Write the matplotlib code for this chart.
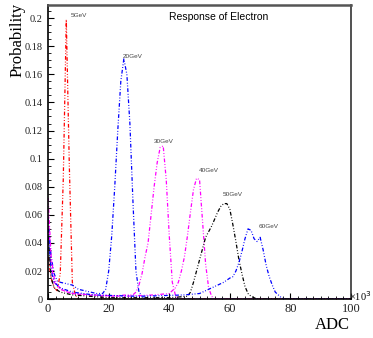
import matplotlib
matplotlib.use("Agg")
import matplotlib.pyplot as plt
from matplotlib.ticker import MultipleLocator, FuncFormatter

# ── 数据（ADC 单位 10^3）──────────────────────────────────────
x_5gev = [0, 1, 2, 3, 4, 5, 6, 7, 8, 9, 10, 100]
y_5gev = [0.030, 0.015, 0.008, 0.006, 0.018, 0.085, 0.199, 0.095, 0.012, 0.003, 0.0, 0.0]

x_20gev = [0, 1, 2, 3, 4, 6, 8, 10, 12, 14, 16, 17, 18, 19, 20, 21, 22, 23, 24, 25,
           26, 27, 28, 29, 30, 31, 32, 100]
y_20gev = [0.058, 0.030, 0.018, 0.013, 0.012, 0.011, 0.010, 0.007, 0.006, 0.005, 0.004, 0.004,
           0.004, 0.007, 0.020, 0.045, 0.080, 0.120, 0.155, 0.171, 0.160, 0.125, 0.070, 0.020,
           0.005, 0.002, 0.0, 0.0]

x_30gev = [0, 1, 2, 3, 5, 8, 12, 20, 26, 28, 29, 30, 31, 32, 33, 34, 35, 36, 37, 38,
           39, 40, 41, 42, 43, 100]
y_30gev = [0.072, 0.030, 0.015, 0.010, 0.006, 0.004, 0.003, 0.002, 0.003, 0.003, 0.005, 0.010,
           0.018, 0.030, 0.040, 0.060, 0.080, 0.097, 0.108, 0.109, 0.085, 0.045, 0.012, 0.003,
           0.0, 0.0]

x_40gev = [0, 1, 2, 4, 8, 15, 25, 35, 40, 41, 42, 43, 44, 45, 46, 47, 48, 49, 50, 51,
           52, 53, 54, 55, 100]
y_40gev = [0.060, 0.025, 0.012, 0.007, 0.004, 0.003, 0.002, 0.003, 0.004, 0.006, 0.008, 0.012,
           0.020, 0.030, 0.045, 0.062, 0.078, 0.086, 0.085, 0.055, 0.025, 0.008, 0.002, 0.0, 0.0]

x_50gev = [0, 1, 2, 4, 8, 20, 40, 46, 47, 48, 49, 50, 51, 52, 53, 54, 55, 56, 57, 58,
           59, 60, 61, 62, 63, 64, 65, 66, 67, 68, 69, 100]
y_50gev = [0.045, 0.015, 0.008, 0.005, 0.003, 0.001, 0.001, 0.002, 0.005, 0.012, 0.020, 0.028,
           0.036, 0.044, 0.048, 0.052, 0.057, 0.062, 0.066, 0.068, 0.068, 0.064, 0.053, 0.041,
           0.028, 0.018, 0.009, 0.004, 0.002, 0.001, 0.0, 0.0]

x_60gev = [0, 1, 2, 4, 8, 15, 30, 45, 50, 52, 54, 56, 58, 60, 61, 62, 63, 64, 65, 66,
           67, 68, 69, 70, 71, 72, 73, 74, 75, 76, 77, 78, 100]
y_60gev = [0.050, 0.020, 0.012, 0.008, 0.005, 0.003, 0.002, 0.003, 0.004, 0.006, 0.008, 0.010,
           0.012, 0.015, 0.016, 0.020, 0.026, 0.034, 0.043, 0.050, 0.049, 0.043, 0.041, 0.044,
           0.035, 0.024, 0.016, 0.010, 0.005, 0.003, 0.001, 0.0, 0.0]

curves = [
    (x_5gev, y_5gev, "#ff0000", "5GeV", (7.3, 0.202)),
    (x_20gev, y_20gev, "#0000ff", "20GeV", (24.5, 0.1726)),
    (x_30gev, y_30gev, "#ff00ff", "30GeV", (34.8, 0.1125)),
    (x_40gev, y_40gev, "#ff00ff", "40GeV", (49.7, 0.0918)),
    (x_50gev, y_50gev, "#000000", "50GeV", (57.6, 0.0747)),
    (x_60gev, y_60gev, "#0000ff", "60GeV", (69.5, 0.0520)),
]

# ── 绘图 ────────────────────────────────────────────────────
fig = plt.figure(figsize=(3.73, 3.38), dpi=100)
ax = fig.add_axes([0.129, 0.115, 0.812, 0.870])

for xs, ys, color, name, (tx, ty) in curves:
    ax.plot(xs, ys, color=color, lw=0.9, dashes=(3, 1.5, 0.7, 1.5, 0.7, 1.5))
    ax.text(tx, ty, name, fontsize=4.6, color="#444444", ha="left", va="center",
            family="Liberation Sans")

ax.set_xlim(0, 100)
ax.set_ylim(0, 0.2093)

ax.xaxis.set_major_locator(MultipleLocator(20))
ax.xaxis.set_minor_locator(MultipleLocator(2.5))
ax.yaxis.set_major_locator(MultipleLocator(0.02))
ax.yaxis.set_minor_locator(MultipleLocator(0.005))
ax.yaxis.set_major_formatter(FuncFormatter(lambda v, p: f"{v:g}"))
ax.xaxis.set_major_formatter(FuncFormatter(lambda v, p: f"{v:g}"))

ax.tick_params(which="both", direction="in", top=False, right=False, color="black")
ax.tick_params(which="major", length=4, width=0.8)
ax.tick_params(which="minor", length=2, width=0.6)
ax.tick_params(axis="x", labelsize=9, pad=3)
ax.tick_params(axis="y", labelsize=7.5, pad=4)
for lab in ax.get_xticklabels() + ax.get_yticklabels():
    lab.set_family("Liberation Serif")
    lab.set_color("#222222")

ax.spines["left"].set_linewidth(1.2)
ax.spines["bottom"].set_linewidth(1.2)
ax.spines["top"].set_linewidth(1.8)
ax.spines["top"].set_color("#555555")
ax.spines["right"].set_linewidth(1.2)
ax.spines["right"].set_color("#333333")

fig.text(18 / 373, 1 - 3 / 338, "Probability", rotation=90, ha="center", va="top",
         fontsize=12, family="Liberation Serif")
fig.text(350 / 373, 1 - 325 / 338, "ADC", ha="right", va="center",
         fontsize=12, family="Liberation Serif")
fig.text(349 / 373, 1 - 296 / 338, "×10$^3$", ha="left", va="center",
         fontsize=7.5, family="Liberation Serif")
ax.text(0.40, 0.96, "Response of Electron", transform=ax.transAxes, ha="left",
        va="center", fontsize=7.5, family="Liberation Sans")

fig.savefig("out.png", dpi=100)
